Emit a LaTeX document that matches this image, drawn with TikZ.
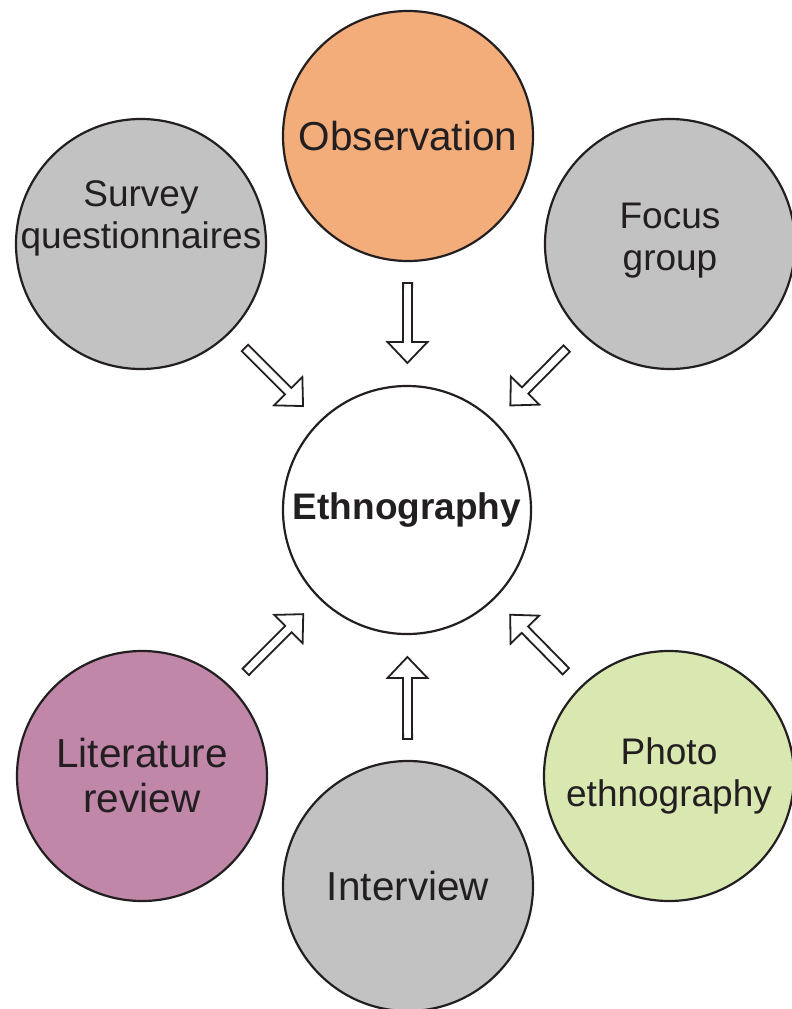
\documentclass[tikz,border=0pt]{standalone}
\usepackage{fontspec}
\setmainfont{Liberation Sans}
\usetikzlibrary{calc}
\definecolor{ink}{HTML}{231F20}
\definecolor{obscol}{HTML}{F2AD7B}
\definecolor{greycol}{HTML}{C2C2C2}
\definecolor{litcol}{HTML}{C087A8}
\definecolor{photocol}{HTML}{D9E8B0}
\tikzset{
  circ/.style={circle, draw=ink, line width=2.2pt, minimum size=250pt, inner sep=0pt, outer sep=0pt},
  lbl/.style={text=ink, align=center},
  big/.style={font=\fontsize{40.5}{45}\selectfont},
  mid/.style={font=\fontsize{37}{42}\selectfont},
  harrow/.style={draw=ink, fill=white, line width=1.8pt, line join=miter},
}
\newcommand{\hollowarrow}[2]{%
  \coordinate (S) at ($(#1)!147pt!(#2)$);
  \coordinate (E) at ($(#2)!147pt!(#1)$);
  \coordinate (H) at ($(E)!21pt!(S)$);
  \path[harrow] ($(S)!4.5pt!90:(E)$) -- ($(H)!4.5pt!90:(E)$) -- ($(H)!20pt!90:(E)$) -- (E)
     -- ($(H)!20pt!-90:(E)$) -- ($(H)!4.5pt!-90:(E)$) -- ($(S)!4.5pt!-90:(E)$) -- cycle;
}
\begin{document}
\begin{tikzpicture}[x=1pt,y=-1pt]
\useasboundingbox (0,0) rectangle (792,1009);
\node[circ, fill=obscol, label={[lbl,big]center:Observation}] (obs) at (408,136) {};
\node[circ, fill=greycol, label={[lbl,mid,yshift=26pt]center:{Survey\\questionnaires}}] (sur) at (141,244) {};
\node[circ, fill=greycol, label={[lbl,mid,yshift=3pt]center:{Focus\\group}}] (foc) at (670,244) {};
\node[circ, fill=white, minimum size=248pt, label={[lbl,font=\fontsize{37}{42}\selectfont\bfseries]center:Ethnography}] (eth) at (407,510) {};
\node[circ, fill=litcol, label={[lbl,big]center:{Literature\\review}}] (lit) at (142,776) {};
\node[circ, fill=greycol, label={[lbl,big]center:Interview}] (int) at (408,886) {};
\node[circ, fill=photocol, label={[lbl,mid]center:{Photo\\ethnography}}] (pho) at (669,776) {};
\hollowarrow{obs}{eth}
\hollowarrow{sur}{eth}
\hollowarrow{foc}{eth}
\hollowarrow{lit}{eth}
\hollowarrow{int}{eth}
\hollowarrow{pho}{eth}
\end{tikzpicture}
\end{document}
